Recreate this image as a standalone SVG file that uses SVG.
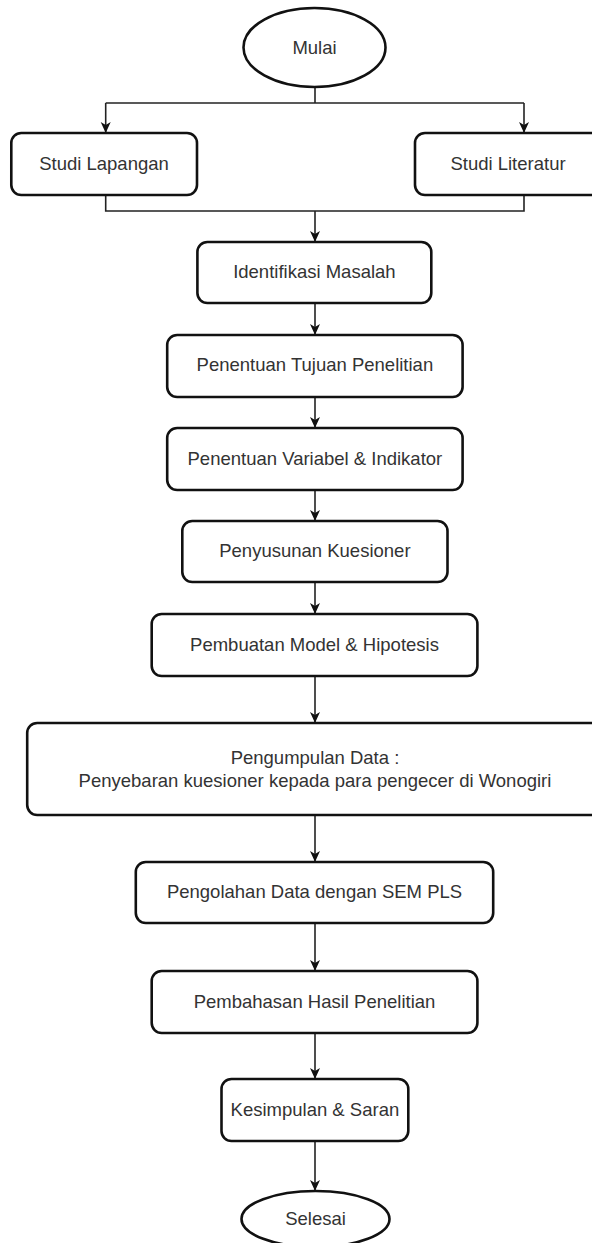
<svg xmlns="http://www.w3.org/2000/svg" width="592" height="1243" viewBox="0 0 592 1243">
<style>
.box{fill:#ffffff;stroke:#111111;stroke-width:2.6}
.lbl{font-family:"Liberation Sans",Arial,sans-serif;font-size:18.5px;fill:#333333;text-anchor:middle}
.conn{fill:none;stroke:#222222;stroke-width:1.6}
</style>
<defs>
<marker id="arr" viewBox="0 0 12 12" refX="11" refY="6" markerWidth="12" markerHeight="12" orient="auto" markerUnits="userSpaceOnUse">
<path d="M0,1 L11,6 L0,11 L3,6 Z" fill="#111111"/>
</marker>
</defs>
<rect width="592" height="1243" fill="#ffffff"/>
<g id="connectors">
<path class="conn" d="M315,87 L315,103"/>
<path class="conn" d="M105.7,103 L524,103"/>
<path class="conn" d="M105.7,103 L105.7,133" marker-end="url(#arr)"/>
<path class="conn" d="M524,103 L524,133" marker-end="url(#arr)"/>
<path class="conn" d="M105.7,195 L105.7,211 L524,211 L524,195"/>
<path class="conn" d="M315,211 L315,242" marker-end="url(#arr)"/>
<path class="conn" d="M315,303 L315,335" marker-end="url(#arr)"/>
<path class="conn" d="M315,397 L315,428" marker-end="url(#arr)"/>
<path class="conn" d="M315,490 L315,521" marker-end="url(#arr)"/>
<path class="conn" d="M315,582 L315,614" marker-end="url(#arr)"/>
<path class="conn" d="M315,676 L315,723" marker-end="url(#arr)"/>
<path class="conn" d="M315,815 L315,862" marker-end="url(#arr)"/>
<path class="conn" d="M315,923 L315,971" marker-end="url(#arr)"/>
<path class="conn" d="M315,1033 L315,1079" marker-end="url(#arr)"/>
<path class="conn" d="M315,1141 L315,1191" marker-end="url(#arr)"/>
</g>
<g id="mulai">
<ellipse class="box" cx="314.5" cy="47.5" rx="71" ry="39.5"/>
<text class="lbl" x="314.5" y="54">Mulai</text>
</g>
<g id="studi-lapangan">
<rect class="box" x="11.3" y="133" width="185.7" height="62" rx="10"/>
<text class="lbl" x="104" y="170">Studi Lapangan</text>
</g>
<g id="studi-literatur">
<rect class="box" x="415" y="133" width="186" height="62" rx="10"/>
<text class="lbl" x="508" y="170">Studi Literatur</text>
</g>
<g id="identifikasi">
<rect class="box" x="197.4" y="242" width="233.9" height="61" rx="10"/>
<text class="lbl" x="314.4" y="278">Identifikasi Masalah</text>
</g>
<g id="tujuan">
<rect class="box" x="167.2" y="335" width="295.4" height="62" rx="10"/>
<text class="lbl" x="314.9" y="371">Penentuan Tujuan Penelitian</text>
</g>
<g id="variabel">
<rect class="box" x="167.2" y="428" width="295.4" height="62" rx="10"/>
<text class="lbl" x="314.9" y="465">Penentuan Variabel &amp; Indikator</text>
</g>
<g id="kuesioner">
<rect class="box" x="182.3" y="521" width="265.2" height="61" rx="10"/>
<text class="lbl" x="314.9" y="557">Penyusunan Kuesioner</text>
</g>
<g id="model">
<rect class="box" x="151.7" y="614" width="325.7" height="62" rx="10"/>
<text class="lbl" x="314.5" y="651">Pembuatan Model &amp; Hipotesis</text>
</g>
<g id="pengumpulan">
<rect class="box" x="27.2" y="723" width="575.8" height="92" rx="10"/>
<text class="lbl" x="315" y="764">Pengumpulan Data :</text>
<text class="lbl" x="315" y="787">Penyebaran kuesioner kepada para pengecer di Wonogiri</text>
</g>
<g id="pengolahan">
<rect class="box" x="135.8" y="862" width="357.4" height="61" rx="10"/>
<text class="lbl" x="314.5" y="898">Pengolahan Data dengan SEM PLS</text>
</g>
<g id="pembahasan">
<rect class="box" x="151.7" y="971" width="325.7" height="62" rx="10"/>
<text class="lbl" x="314.5" y="1008">Pembahasan Hasil Penelitian</text>
</g>
<g id="kesimpulan">
<rect class="box" x="221.5" y="1079" width="186.8" height="62" rx="10"/>
<text class="lbl" x="314.9" y="1116">Kesimpulan &amp; Saran</text>
</g>
<g id="selesai">
<ellipse class="box" cx="315.5" cy="1219" rx="74" ry="28"/>
<text class="lbl" x="315.5" y="1225">Selesai</text>
</g>
</svg>
